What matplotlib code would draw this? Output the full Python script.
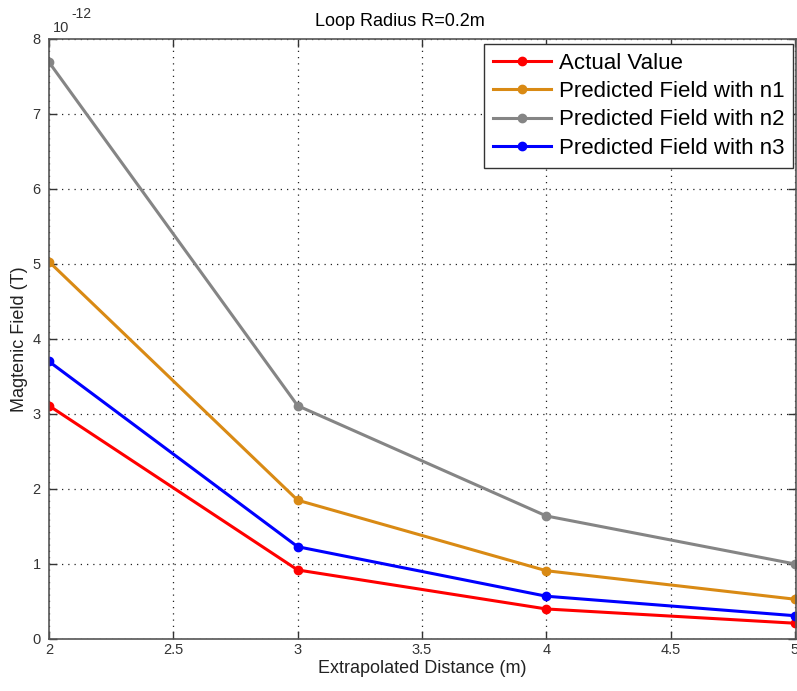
import matplotlib
matplotlib.use("Agg")
import matplotlib.pyplot as plt
import numpy as np

# ── Dados (campo em unidades de 1e-12 T) ─────────────────────────────────────
distance = [2, 3, 4, 5]
actual = [3.11, 0.92, 0.40, 0.21]
pred_n1 = [5.03, 1.85, 0.91, 0.53]
pred_n2 = [7.69, 3.11, 1.64, 1.00]
pred_n3 = [3.70, 1.23, 0.57, 0.31]

series = [
    ("Actual Value", actual, "#ff0000"),
    ("Predicted Field with n1", pred_n1, "#d98a14"),
    ("Predicted Field with n2", pred_n2, "#858585"),
    ("Predicted Field with n3", pred_n3, "#0000ff"),
]

xticks = [2, 2.5, 3, 3.5, 4, 4.5, 5]
xticklabels = ["2", "2.5", "3", "3.5", "4", "4.5", "5"]
yticks = [0, 1, 2, 3, 4, 5, 6, 7, 8]

plt.rcParams["font.family"] = ["Liberation Sans", "DejaVu Sans"]

W, H = 797, 691
fig = plt.figure(figsize=(W / 100, H / 100), dpi=100)
ax = fig.add_axes([0.0615, 0.0753, 0.9375, 0.8683])

for label, vals, color in series:
    ax.plot(distance, vals, color=color, linewidth=2.2, marker="o",
            markersize=6, label=label)

ax.set_xlim(2, 5.005)
ax.set_ylim(0, 8)
ax.set_xticks(xticks)
ax.set_xticklabels(xticklabels)
ax.set_yticks(yticks)
ax.tick_params(direction="in", length=6, width=1, colors="#333333",
               labelsize=10.5, top=True, right=True)
ax.tick_params(axis="x", pad=3)
ax.tick_params(axis="y", pad=6)
for sp in ax.spines.values():
    sp.set_color("#555555")
    sp.set_linewidth(1.2)
ax.grid(True, color="#222222", linestyle=(0, (1, 4)), linewidth=0.9)

# título deslocado como no original (figura recortada)
ax.set_title("Loop Radius R=0.2m", fontsize=13, pad=9, x=0.47)
ax.set_xlabel("Extrapolated Distance (m)", fontsize=13, color="#222222", labelpad=2)
ax.set_ylabel("Magtenic Field (T)", fontsize=13, color="#222222", labelpad=3)

# Expoente estilo MATLAB
fig.text(53 / W, 1 - 32 / H, "10", fontsize=10.5, color="#333333",
         ha="left", va="baseline")
fig.text(71 / W, 1 - 18 / H, "-12", fontsize=10, color="#333333",
         ha="left", va="baseline")

leg = ax.legend(loc="upper right", fontsize=16, frameon=True, fancybox=False,
                borderpad=0.4, labelspacing=0.33, handlelength=2.6,
                handletextpad=0.35, borderaxespad=0,
                bbox_to_anchor=(0.996, 0.992))
leg.get_frame().set_edgecolor("#333333")
leg.get_frame().set_linewidth(1.0)
leg.get_frame().set_alpha(1)

plt.savefig("out.png", dpi=100)
plt.close()
